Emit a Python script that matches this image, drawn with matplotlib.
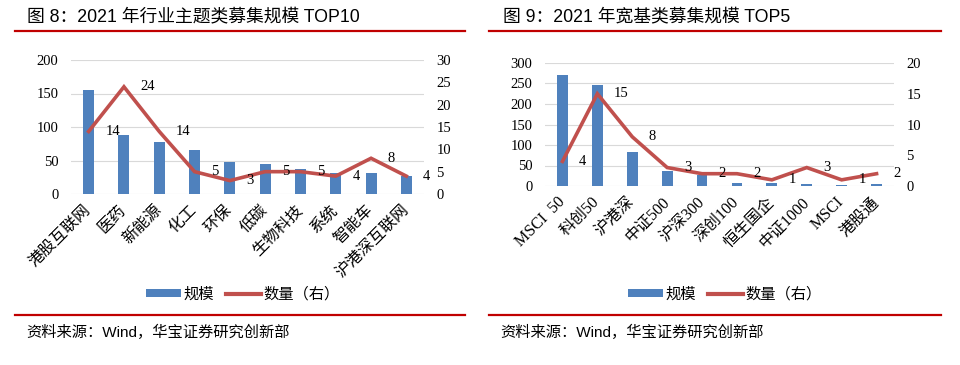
import matplotlib
matplotlib.use("Agg")
import matplotlib.pyplot as plt
from matplotlib.lines import Line2D
from matplotlib.patches import Patch

plt.rcParams['font.family'] = ['Liberation Serif', 'Noto Sans CJK SC', 'DejaVu Sans']

# ---- data ----
left_title = "图 8：2021 年行业主题类募集规模 TOP10"
left_cats = ["港股互联网", "医药", "新能源", "化工", "环保", "低碳", "生物科技", "系统", "智能车", "沪港深互联网"]
left_scale = [155, 88, 78, 66, 48, 45, 38, 32, 32, 27]
left_count = [14, 24, 14, 5, 3, 5, 5, 4, 8, 4]
left_yticks = [0, 50, 100, 150, 200]
left_y2ticks = [0, 5, 10, 15, 20, 25, 30]

right_title = "图 9：2021 年宽基类募集规模 TOP5"
right_cats = ["MSCI  50", "科创50", "沪港深", "中证500", "沪深300", "深创100", "恒生国企", "中证1000", "MSCI", "港股通"]
right_scale = [270, 247, 82, 36, 28, 8, 8, 4, 3, 4]
right_count = [4, 15, 8, 3, 2, 2, 1, 3, 1, 2]
right_yticks = [0, 50, 100, 150, 200, 250, 300]
right_y2ticks = [0, 5, 10, 15, 20]

legend_labels = ["规模", "数量（右）"]
source_text = "资料来源：Wind，华宝证券研究创新部"

BLUE = "#4F81BD"
RED = "#C0504D"
HDR = "#C00000"
GRID = "#D9D9D9"

W, H = 960, 365
fig = plt.figure(figsize=(W / 100, H / 100), dpi=100)


def fx(px):
    return px / W


def fy(py):
    return 1 - py / H


def panel(rect, cats, scale, count, yt, y2t):
    ax = fig.add_axes(rect)
    x = list(range(len(cats)))
    ax.bar(x, scale, width=0.31, color=BLUE, zorder=2)
    ax.set_xlim(-0.5, len(cats) - 0.5)
    ax.set_ylim(yt[0], yt[-1])
    ax.set_yticks(yt)
    ax.yaxis.grid(True, color=GRID, lw=0.8, zorder=0)
    ax.set_axisbelow(True)
    for s in ax.spines.values():
        s.set_visible(False)
    ax.tick_params(axis='both', length=0, labelsize=10.5)
    ax.tick_params(axis='y', pad=9)
    ax.set_xticks(x)
    ax.set_xticklabels(cats, rotation=45, ha='right', va='center',
                       rotation_mode='anchor', fontsize=11.5)
    ax.tick_params(axis='x', pad=10)
    ax2 = ax.twinx()
    ax2.plot(x, count, color=RED, lw=2.6, solid_joinstyle='miter', zorder=3)
    ax2.set_ylim(y2t[0], y2t[-1])
    ax2.set_yticks(y2t)
    for s in ax2.spines.values():
        s.set_visible(False)
    ax2.tick_params(axis='y', length=0, labelsize=10.5, pad=9)
    for xi, v in zip(x, count):
        ax2.annotate(str(v), (xi, v), xytext=(12, 0), textcoords='offset points',
                     ha='left', va='center', fontsize=10.5)
    return ax


panel([fx(71), fy(194), fx(424 - 71), (194 - 60) / H],
      left_cats, left_scale, left_count, left_yticks, left_y2ticks)
panel([fx(545), fy(186), fx(894 - 545), (186 - 63) / H],
      right_cats, right_scale, right_count, right_yticks, right_y2ticks)

tfam = ['Liberation Sans', 'Noto Sans CJK SC']
fig.text(fx(27), fy(17), left_title, fontsize=12.8, family=tfam, va='center', ha='left')
fig.text(fx(503), fy(17), right_title, fontsize=12.8, family=tfam, va='center', ha='left')

for x0, x1 in [(15, 465), (489, 941)]:
    for yy in (31, 315):
        fig.add_artist(Line2D([fx(x0), fx(x1)], [fy(yy), fy(yy)],
                              transform=fig.transFigure, color=HDR, lw=1.6))

fig.text(fx(26), fy(332), source_text, fontsize=11, family=tfam, va='center', ha='left')
fig.text(fx(500), fy(332), source_text, fontsize=11, family=tfam, va='center', ha='left')

handles = [Patch(facecolor=BLUE, edgecolor='none'), Line2D([], [], color=RED, lw=3)]
for cx in (243, 725):
    fig.legend(handles, legend_labels, loc='center', bbox_to_anchor=(fx(cx), fy(294)),
               ncol=2, frameon=False, handlelength=2.3, handleheight=0.5,
               handletextpad=0.15, columnspacing=0.8,
               prop={'family': ['Noto Sans CJK SC'], 'size': 11})

fig.savefig("out.png", dpi=100)
